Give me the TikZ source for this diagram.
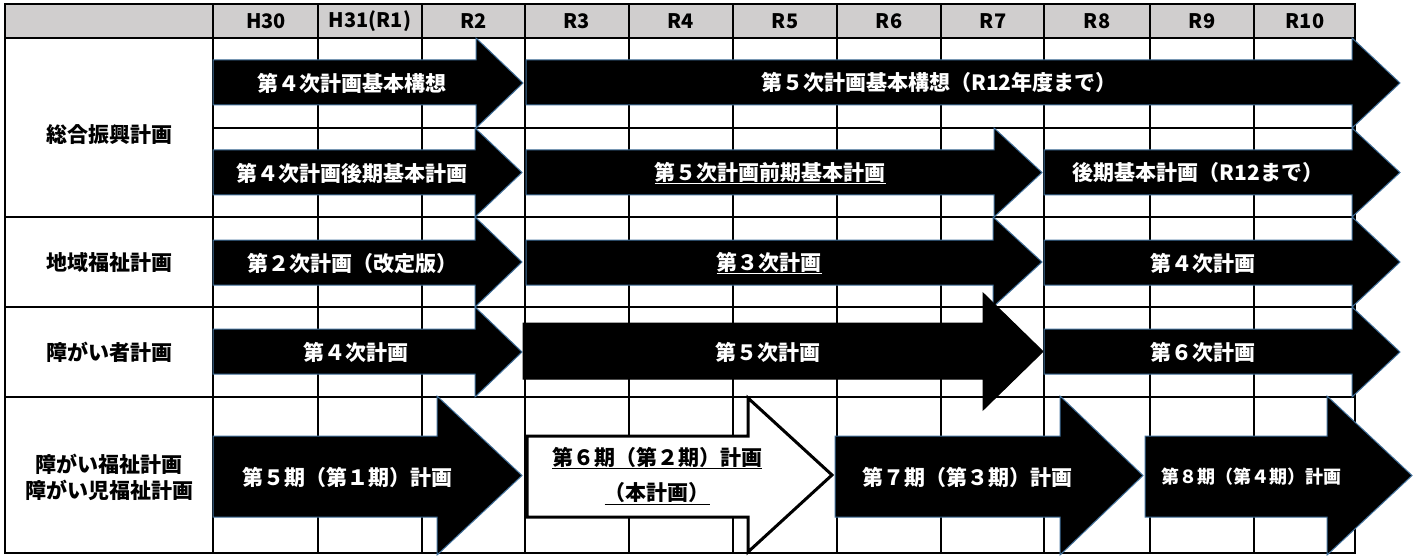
\documentclass[tikz,border=0pt]{standalone}
\usepackage{fontspec}
\setmainfont{Noto Sans CJK JP}
\definecolor{arrowblue}{HTML}{41719C}
\definecolor{headgray}{HTML}{D0CECE}
\newcommand{\blockarrow}[8]{%
  \draw[#1] (#2,#5) -- (#3,#5) -- (#3,#7) -- (#4,{(#7+#8)/2}) -- (#3,#8) -- (#3,#6) -- (#2,#6) -- cycle;}
\begin{document}
\begin{tikzpicture}[x=1pt,y=-1pt,
  vline/.style={line width=1.6pt,black},
  hline/.style={line width=2pt,black},
  barrow/.style={fill=black,draw=arrowblue,line width=1pt,line join=miter},
  darrow/.style={fill=black,draw=black,line width=1pt,line join=miter},
  warrow/.style={fill=white,draw=black,line width=3pt,line join=miter},
  atext/.style={text=white,font=\bfseries\fontsize{21}{24}\selectfont,inner sep=0pt},
  btext/.style={text=black,font=\bfseries\fontsize{21}{24}\selectfont,inner sep=0pt},
  stext/.style={text=white,font=\bfseries\fontsize{18}{20}\selectfont,inner sep=0pt},
  htext/.style={text=black,font=\bfseries\fontsize{20}{22}\selectfont,inner sep=0pt},
  ltext/.style={text=black,font=\bfseries\fontsize{21}{24}\selectfont,inner sep=0pt,align=center}]
\useasboundingbox (0,0) rectangle (1421,556);
\fill[white] (0,0) rectangle (1421,556);
% header
\fill[headgray] (5,4) rectangle (1355,38);
% vertical grid lines
\foreach \x in {213,318,422,525,629,733,837,941,1044,1150,1254}
  \draw[vline] (\x,4) -- (\x,553);
% horizontal lines
\draw[hline] (5,38) -- (1355,38);
\draw[hline] (213,128) -- (1355,128);
\foreach \y in {217,307,397}
  \draw[hline] (5,\y) -- (1355,\y);
\draw[line width=2.2pt] (5,4) rectangle (1355,553);
% header texts
\node[htext] (h30) at (266,21) {H30};
\node[htext] (h31) at (370,21) {H31(R1)};
\node[htext] (r2) at (474,21) {R2};
\node[htext] (r3) at (577,21) {R3};
\node[htext] (r4) at (681,21) {R4};
\node[htext] (r5) at (785,21) {R5};
\node[htext] (r6) at (889,21) {R6};
\node[htext] (r7) at (993,21) {R7};
\node[htext] (r8) at (1097,21) {R8};
\node[htext] (r9) at (1202,21) {R9};
\node[htext] (r10) at (1305,21) {R10};
% row labels
\node[ltext] (l1) at (109,135) {総合振興計画};
\node[ltext] (l2) at (109,263) {地域福祉計画};
\node[ltext] (l3) at (109,352) {障がい者計画};
\node[ltext] (l4) at (109,477) {障がい福祉計画\\[2pt]障がい児福祉計画};
% arrows
\blockarrow{barrow}{213}{476}{523}{60}{105}{38}{128}
\blockarrow{barrow}{526}{1352}{1400}{60}{105}{38}{128}
\blockarrow{barrow}{213}{475}{522}{150}{195}{128}{217}
\blockarrow{barrow}{526}{994}{1042}{150}{195}{128}{217}
\blockarrow{barrow}{1044}{1352}{1400}{150}{195}{128}{217}
\blockarrow{barrow}{213}{475}{522}{240}{285}{217}{307}
\blockarrow{barrow}{526}{993}{1042}{240}{285}{217}{307}
\blockarrow{barrow}{1044}{1352}{1400}{240}{285}{217}{307}
\blockarrow{barrow}{213}{475}{522}{329}{374}{307}{397}
\blockarrow{darrow}{523}{983}{1043}{323}{379}{293}{410}
\blockarrow{barrow}{1044}{1352}{1400}{329}{374}{307}{397}
\blockarrow{barrow}{213}{437}{522}{436}{517}{396}{555}
\blockarrow{warrow}{527}{748}{832}{436}{517}{398}{552}
\blockarrow{barrow}{835}{1060}{1143}{436}{517}{396}{555}
\blockarrow{barrow}{1145}{1327}{1412}{436}{517}{396}{555}
% arrow texts
\node[atext] (a1) at (352,83) {第４次計画基本構想};
\node[atext] (a2) at (939,83) {第５次計画基本構想（R12年度まで）};
\node[atext] (a3) at (352,173) {第４次計画後期基本計画};
\node[atext] (a4) at (770,173) {\underline{第５次計画前期基本計画}};
\node[atext] (a5) at (1198,173) {後期基本計画（R12まで）};
\node[atext] (a6) at (352,263) {第２次計画（改定版）};
\node[atext] (a7) at (769,263) {\underline{第３次計画}};
\node[atext] (a8) at (1203,263) {第４次計画};
\node[atext] (a9) at (356,352) {第４次計画};
\node[atext] (a10) at (768,352) {第５次計画};
\node[atext] (a11) at (1203,352) {第６次計画};
\node[atext] (a12) at (347,477) {第５期（第１期）計画};
\node[btext] (a13a) at (657,458) {\underline{第６期（第２期）計画}};
\node[btext] (a13b) at (657,494) {\underline{（本計画）}};
\node[atext] (a14) at (967,477) {第７期（第３期）計画};
\node[stext] (a15) at (1251,477) {第８期（第４期）計画};
\end{tikzpicture}
\end{document}
